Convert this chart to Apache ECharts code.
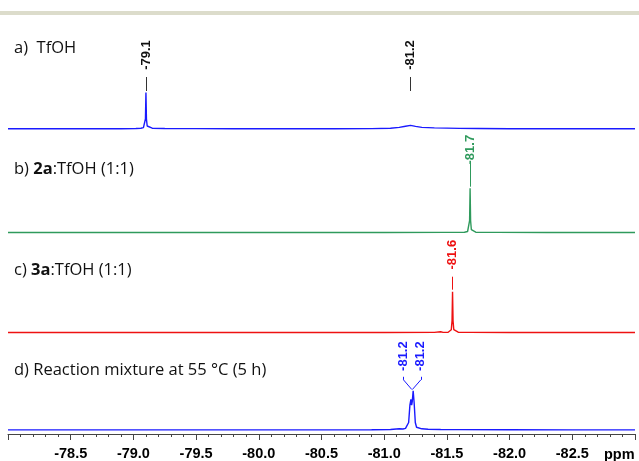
<!DOCTYPE html>
<html>
<head>
<meta charset="utf-8">
<script src="https://cdn.jsdelivr.net/npm/echarts@6/dist/echarts.min.js"></script>
<style>html,body{margin:0;padding:0;background:#fff}#c{width:639px;height:461px}</style>
</head>
<body>
<div id="c"></div>
<script>
// x axis (ppm, reversed)
var xMin = -83.0, xMax = -78.0, xInterval = 0.5;
var tickLabelsHidden = [-78.0, -83.0];
var axisUnit = 'ppm';

// panel titles
var panelTitles = ['a)  TfOH', 'b) ', 'c) ', 'd) Reaction mixture at 55 \u00B0C (5 h)'];

// spectra: [ppm, intensity]
var traceA = [
  [-78.0,0.3],[-78.3,0.2],[-78.6,0.3],[-78.9,0.3],[-79.02,0.5],[-79.06,0.8],[-79.08,1.4],[-79.09,3],
  [-79.096,10],[-79.1,36.5],[-79.104,10],[-79.11,3],[-79.12,1.4],[-79.15,0.8],[-79.25,0.5],[-79.5,0.4],
  [-79.8,0.3],[-80.2,0.3],[-80.6,0.3],[-80.9,0.4],[-81.05,0.8],[-81.12,1.6],[-81.17,2.8],[-81.21,3.6],
  [-81.25,2.6],[-81.3,1.6],[-81.4,1.1],[-81.5,0.9],[-81.6,0.6],[-81.75,0.5],[-82.0,0.3],[-82.5,0.2],[-83.0,0.2]
];
var traceB = [
  [-78.0,0.2],[-78.6,0.2],[-79.2,0.2],[-79.8,0.2],[-80.4,0.2],[-81.0,0.2],[-81.5,0.3],[-81.64,0.5],
  [-81.665,1.2],[-81.675,3],[-81.681,12],[-81.685,44.5],[-81.689,12],[-81.695,3],[-81.705,1.2],
  [-81.73,0.5],[-81.9,0.3],[-82.3,0.2],[-82.7,0.2],[-83.0,0.2]
];
var traceC = [
  [-78.0,0.2],[-78.6,0.2],[-79.2,0.2],[-79.8,0.2],[-80.4,0.2],[-81.0,0.2],[-81.4,0.3],[-81.45,0.9],
  [-81.47,0.3],[-81.51,0.5],[-81.525,1.2],[-81.535,3],[-81.541,12],[-81.545,41],[-81.549,12],
  [-81.555,3],[-81.565,1.2],[-81.59,0.5],[-81.65,0.3],[-81.66,0.9],[-81.68,0.3],[-82.0,0.2],[-82.5,0.2],[-83.0,0.2]
];
var traceD = [
  [-78.0,0.3],[-78.6,0.3],[-79.2,0.3],[-79.8,0.3],[-80.4,0.3],[-80.9,0.4],[-81.05,0.7],[-81.12,1.4],
  [-81.15,1.2],[-81.17,1.8],[-81.185,3],[-81.195,8],[-81.205,26],[-81.213,32],[-81.219,26],
  [-81.224,30],[-81.231,41],[-81.239,28],[-81.248,8],[-81.258,3],[-81.27,1.6],[-81.3,1.4],[-81.35,1.0],
  [-81.45,0.7],[-81.6,0.5],[-82.0,0.4],[-82.5,0.3],[-83.0,0.3]
];

// peak labels: [ppm, label, textY, leaderTop, leaderBottom]
var peaksA = [[-79.103, '-79.1', 74, 52, 38], [-81.21, '-81.2', 74, 52, 38]];
var peaksB = [[-81.685, '-81.7', 83, 69, 46]];
var peaksC = [[-81.545, '-81.6', 78, 56, 43]];
// d: fork labels [labelPpm, label, textY, leaderTop, bendY, peakPpm, peakY]
var peaksD = [[-81.154, '-81.2', 77, 55.5, 52.3, -81.220, 42.3],
              [-81.292, '-81.2', 77, 55.5, 52.3, -81.225, 42.3]];

var colA = '#1a1aff', colB = '#2f9a5c', colC = '#ee1111', colD = '#1a1aff';
var baselines = [129, 232.7, 332.7, 434];

var peakFont = { fontWeight: 'bold', fontSize: 13, fontFamily: 'Liberation Sans, Arial, sans-serif' };

function simplePeakMarks(peaks, color, lineColor) {
  return {
    markLine: {
      silent: true, symbol: 'none', animation: false,
      lineStyle: { color: lineColor || color, width: 1, type: 'solid' },
      label: { show: false },
      data: peaks.map(function (p) { return [{ coord: [p[0], p[3]] }, { coord: [p[0], p[4]] }]; })
    },
    markPoint: {
      silent: true, animation: false, symbol: 'circle', symbolSize: 1,
      itemStyle: { color: 'rgba(0,0,0,0)' },
      label: { show: true, position: 'inside', rotate: 90, color: color, fontWeight: peakFont.fontWeight,
               fontSize: peakFont.fontSize, fontFamily: peakFont.fontFamily,
               formatter: function (d) { return d.name; } },
      data: peaks.map(function (p) { return { name: p[1], coord: [p[0], p[2]] }; })
    }
  };
}

var grids = baselines.map(function (b) { return { left: 8, right: 4, top: b - 100, height: 104 }; });
var xAxes = baselines.map(function (b, i) {
  var last = i === baselines.length - 1;
  return {
    type: 'value', gridIndex: i, min: xMin, max: xMax, interval: xInterval, inverse: true,
    show: last,
    axisLine: { show: true, onZero: false, lineStyle: { color: '#444', width: 1 } },
    axisTick: { show: true, length: 6, lineStyle: { color: '#444' } },
    minorTick: { show: true, splitNumber: 5, length: 3, lineStyle: { color: '#444' } },
    splitLine: { show: false },
    axisLabel: {
      margin: 12, color: '#000', fontWeight: 'bold', fontSize: 14.5,
      fontFamily: 'Liberation Sans, Arial, sans-serif',
      formatter: function (v) {
        for (var k = 0; k < tickLabelsHidden.length; k++) if (Math.abs(v - tickLabelsHidden[k]) < 1e-6) return '';
        return v.toFixed(1);
      }
    }
  };
});
var yAxes = baselines.map(function (b, i) { return { type: 'value', gridIndex: i, min: -4, max: 100, show: false }; });

function lineSeries(data, i, color, extra) {
  var s = {
    type: 'line', xAxisIndex: i, yAxisIndex: i, data: data, showSymbol: false, symbol: 'none',
    smooth: false, animation: false, silent: true,
    lineStyle: { color: color, width: 1.4 }
  };
  for (var k in extra) s[k] = extra[k];
  return s;
}

var forkLines = [];
peaksD.forEach(function (p) {
  forkLines.push([{ coord: [p[0], p[3]] }, { coord: [p[0], p[4]] }]);
  forkLines.push([{ coord: [p[0], p[4]] }, { coord: [p[5], p[6]] }]);
});

var titleFont = 'Open Sans, sans-serif', titleSize = 16.5;
function mkTitle(text, top, rich) {
  var t = { text: text, left: 14, top: top, padding: 0,
    textStyle: { fontFamily: titleFont, fontSize: titleSize, fontWeight: 'normal', color: '#111', lineHeight: 20 } };
  if (rich) t.textStyle.rich = rich;
  return t;
}
var richStyle = {
  n: { fontFamily: titleFont, fontSize: titleSize, color: '#111', lineHeight: 20 },
  b: { fontFamily: titleFont, fontSize: titleSize, fontWeight: 'bold', color: '#111', lineHeight: 20 }
};

var option = {
  backgroundColor: '#fff',
  animation: false,
  title: [
    mkTitle(panelTitles[0], 38),
    mkTitle('{n|' + panelTitles[1] + '}{b|2a}{n|:TfOH (1:1)}', 159, richStyle),
    mkTitle('{n|' + panelTitles[2] + '}{b|3a}{n|:TfOH (1:1)}', 260, richStyle),
    mkTitle(panelTitles[3], 360)
  ],
  graphic: [
    { type: 'rect', left: 0, top: 11, shape: { width: 639, height: 4 }, style: { fill: '#dcdccb' }, silent: true },
    { type: 'text', left: 604, top: 447, silent: true,
      style: { text: axisUnit, fill: '#000', font: 'bold 14.5px "Liberation Sans", Arial, sans-serif' } }
  ],
  grid: grids,
  xAxis: xAxes,
  yAxis: yAxes,
  series: [
    lineSeries(traceA, 0, colA, simplePeakMarks(peaksA, '#111', '#333')),
    lineSeries(traceB, 1, colB, simplePeakMarks(peaksB, colB)),
    lineSeries(traceC, 2, colC, simplePeakMarks(peaksC, colC)),
    lineSeries(traceD, 3, colD, {
      markLine: { silent: true, symbol: 'none', animation: false,
        lineStyle: { color: colD, width: 1, type: 'solid' }, label: { show: false }, data: forkLines },
      markPoint: { silent: true, animation: false, symbol: 'circle', symbolSize: 1,
        itemStyle: { color: 'rgba(0,0,0,0)' },
        label: { show: true, position: 'inside', rotate: 90, color: colD, fontWeight: peakFont.fontWeight,
                 fontSize: peakFont.fontSize, fontFamily: peakFont.fontFamily,
                 formatter: function (d) { return d.name; } },
        data: peaksD.map(function (p) { return { name: p[1], coord: [p[0], p[2]] }; }) }
    })
  ]
};
var chart = echarts.init(document.getElementById('c'), null, { renderer: 'canvas' });
chart.setOption(option);
</script>
</body>
</html>
